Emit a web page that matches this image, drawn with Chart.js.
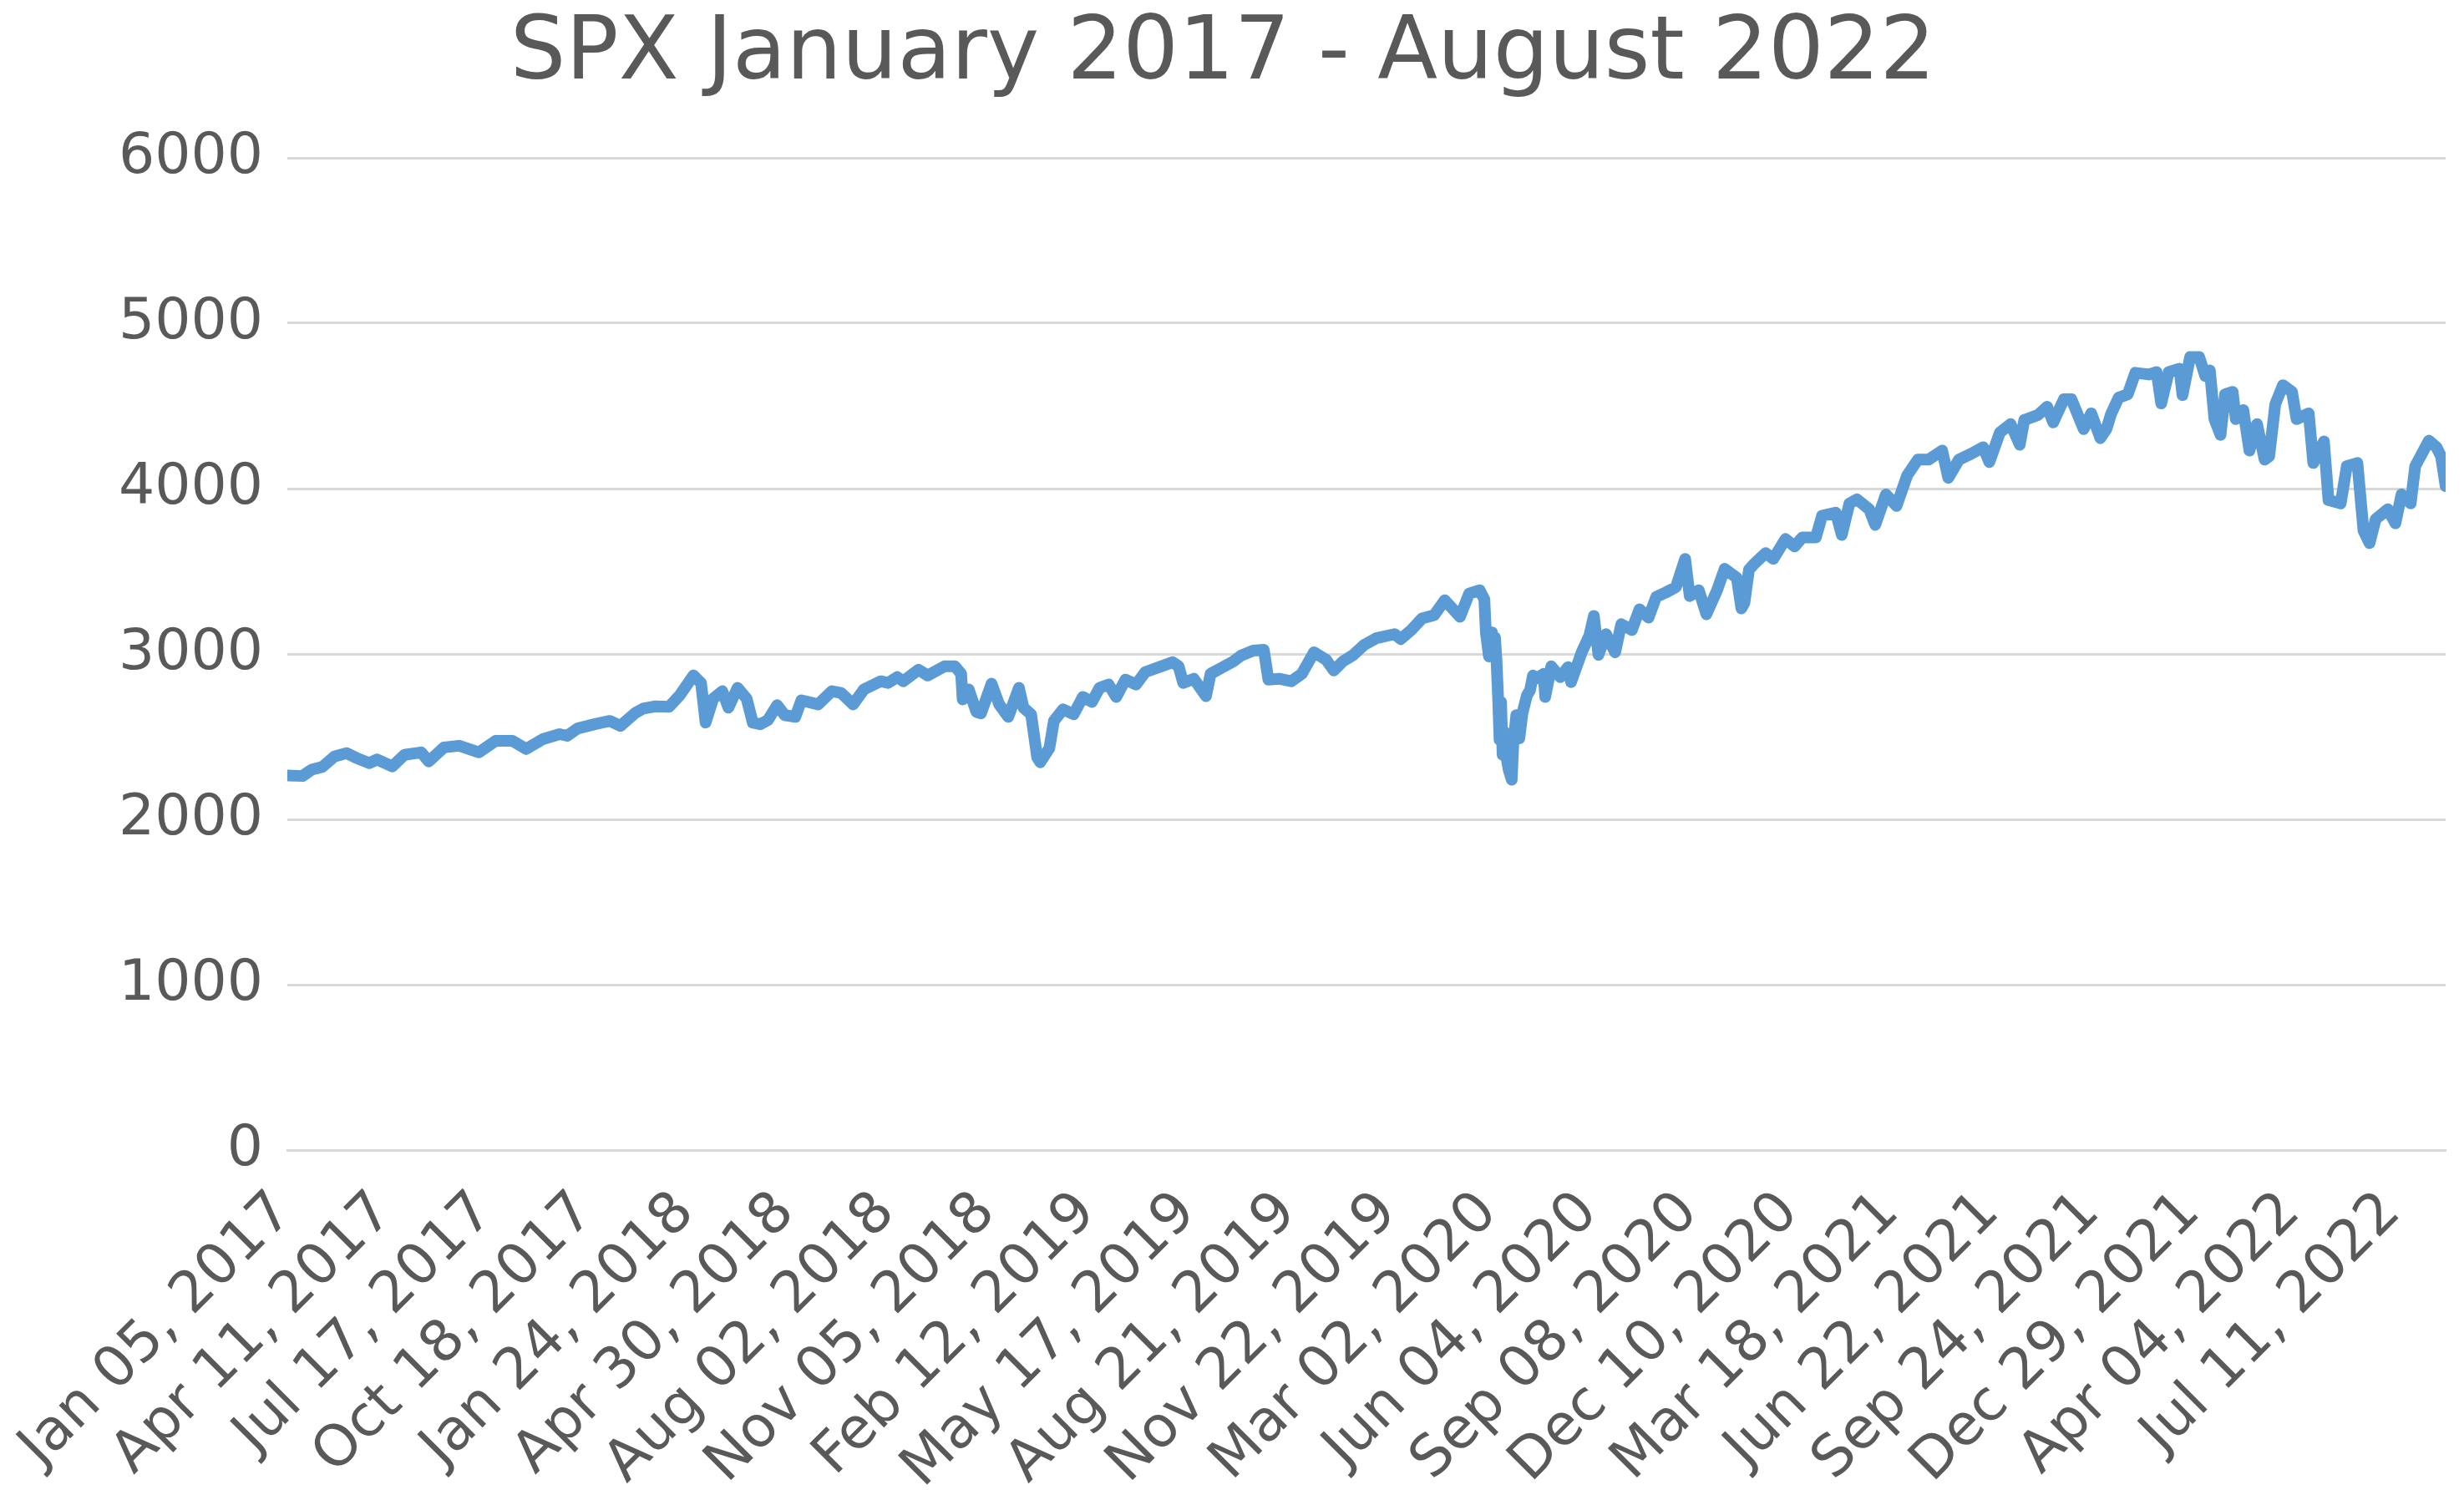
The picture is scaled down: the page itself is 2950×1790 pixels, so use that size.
<!DOCTYPE html>
<html>
<head>
<meta charset="utf-8">
<title>SPX January 2017 - August 2022</title>
<script src="https://cdn.jsdelivr.net/npm/chart.js@4.4.1/dist/chart.umd.min.js"></script>
<style>
  html, body { margin: 0; padding: 0; background: #ffffff; }
  #wrap { width: 2950px; height: 1790px; }
</style>
</head>
<body>
<div id="wrap"><canvas id="spx" width="2950" height="1790"></canvas></div>
<script>
let chartTitle = 'SPX January 2017 - August 2022'

// trading-day position of each sampled close (0 = Jan 05, 2017)
let dayIndex = [
  0, 10, 16, 23, 31, 39, 45, 54, 59, 69, 77, 88, 93, 103, 113, 126, 137, 148, 157, 168,
  179, 184, 191, 202, 212, 219, 229, 234, 242, 251, 258, 267, 272, 275, 280, 286, 290, 296,
  302, 306, 311, 316, 322, 327, 334, 338, 349, 358, 364, 372, 379, 390, 395, 401, 405, 415,
  421, 432, 439, 443, 444, 448, 453, 456, 463, 468, 474, 481, 484, 489, 493, 495, 501, 504,
  510, 517, 523, 529, 534, 540, 545, 551, 558, 564, 573, 582, 586, 589, 596, 604, 607, 614,
  622, 627, 635, 642, 645, 652, 660, 667, 675, 683, 688, 694, 701, 708, 716, 728, 732, 739,
  746, 754, 761, 771, 777, 784, 787, 788, 790, 792, 793, 794, 795, 796, 797, 798, 799, 800,
  801, 803, 805, 806, 808, 810, 812, 815, 817, 819, 821, 826, 827, 831, 835, 837, 842, 844,
  851, 856, 859, 862, 867, 873, 877, 884, 889, 895, 900, 906, 913, 919, 922, 928, 933, 940,
  945, 953, 956, 958, 961, 965, 972, 977, 985, 991, 996, 1005, 1009, 1018, 1022, 1027, 1032,
  1040, 1044, 1051, 1058, 1065, 1072, 1079, 1088, 1092, 1099, 1107, 1115, 1119, 1126, 1133,
  1139, 1142, 1151, 1157, 1161, 1168, 1173, 1181, 1186, 1192, 1196, 1199, 1204, 1210, 1215,
  1224, 1229, 1232, 1237, 1244, 1246, 1251, 1257, 1261, 1264, 1267, 1271, 1274, 1279, 1281,
  1286, 1290, 1295, 1300, 1303, 1307, 1312, 1318, 1321, 1329, 1332, 1339, 1342, 1350, 1354,
  1361, 1365, 1369, 1373, 1381, 1386, 1390, 1396, 1399, 1408, 1413, 1416, 1419,
]

let spxClose = [
  2265, 2262, 2300, 2317, 2380, 2400, 2373, 2340, 2362, 2320, 2390, 2405, 2350, 2435, 2445, 2405, 2475, 2475, 2425, 2485,
  2515, 2505, 2550, 2575, 2595, 2565, 2645, 2670, 2683, 2680, 2750, 2870, 2825, 2585, 2730, 2775, 2675, 2795,
  2730, 2585, 2575, 2600, 2690, 2630, 2620, 2720, 2695, 2775, 2765, 2695, 2785, 2835, 2825, 2860, 2835, 2905,
  2870, 2925, 2925, 2880, 2725, 2785, 2650, 2640, 2820, 2695, 2620, 2795, 2675, 2635, 2375, 2345, 2430, 2595,
  2665, 2635, 2740, 2710, 2795, 2815, 2740, 2845, 2815, 2890, 2920, 2950, 2925, 2825, 2850, 2745, 2880, 2915,
  2955, 2990, 3020, 3025, 2845, 2850, 2835, 2880, 3010, 2965, 2900, 2955, 2995, 3055, 3095, 3120, 3090, 3145,
  3215, 3235, 3325, 3225, 3365, 3385, 3330, 3130, 2985, 3130, 3000, 3100, 2960, 2745, 2480, 2710, 2390, 2530,
  2400, 2300, 2240, 2450, 2630, 2490, 2640, 2750, 2780, 2870, 2850, 2880, 2740, 2925, 2880, 2860, 2920, 2830,
  3010, 3110, 3230, 2995, 3120, 3010, 3180, 3145, 3270, 3220, 3345, 3370, 3405, 3575, 3350, 3385, 3240, 3385,
  3515, 3460, 3275, 3310, 3510, 3550, 3610, 3575, 3695, 3650, 3705, 3705, 3835, 3855, 3720, 3910, 3935,
  3875, 3780, 3965, 3895, 4080, 4175, 4175, 4230, 4065, 4175, 4210, 4250, 4160, 4340, 4390,
  4265, 4415, 4445, 4495, 4400, 4540, 4540, 4360, 4455, 4305, 4360, 4450, 4550, 4570, 4700,
  4690, 4705, 4515, 4705, 4725, 4565, 4795, 4795, 4680, 4715, 4420, 4325, 4570, 4585, 4420,
  4475, 4230, 4390, 4175, 4195, 4510, 4625, 4585, 4420, 4455, 4155, 4285, 3930, 3910, 4135,
  4155, 3745, 3670, 3815, 3875, 3790, 3965, 3910, 4135, 4290, 4250, 4195, 4015,
]

// category labels shown every 66 trading days
let labelEvery = 66
let tickLabels = [
  'Jan 05, 2017', 'Apr 11, 2017', 'Jul 17, 2017', 'Oct 18, 2017', 'Jan 24, 2018', 'Apr 30, 2018',
  'Aug 02, 2018', 'Nov 05, 2018', 'Feb 12, 2019', 'May 17, 2019', 'Aug 21, 2019', 'Nov 22, 2019',
  'Mar 02, 2020', 'Jun 04, 2020', 'Sep 08, 2020', 'Dec 10, 2020', 'Mar 18, 2021', 'Jun 22, 2021',
  'Sep 24, 2021', 'Dec 29, 2021', 'Apr 04, 2022', 'Jul 11, 2022',
]

let yTicks = [0, 1000, 2000, 3000, 4000, 5000, 6000]

let textColor = '#595959'
let gridColor = '#d9d9d9'
let lineColor = '#5b9bd5'
let fontFamily = "'DejaVu Sans', 'Liberation Sans', sans-serif"

let points = dayIndex.map(function(d, i) {
  return { x: d, y: spxClose[i] }
})

new Chart(document.getElementById('spx'), {
  type: 'line',
  data: {
    datasets: [
      {
        label: 'SPX',
        data: points,
        borderColor: lineColor,
        borderWidth: 14,
        borderJoinStyle: 'round',
        borderCapStyle: 'round',
        pointRadius: 0,
        tension: 0,
        fill: false,
      },
    ],
  },
  options: {
    responsive: false,
    animation: false,
    devicePixelRatio: 1,
    layout: { padding: { left: 0, right: 22, top: 0, bottom: 0 } },
    plugins: {
      legend: { display: false },
      tooltip: { enabled: false },
      title: {
        display: true,
        text: chartTitle,
        color: textColor,
        font: { family: fontFamily, size: 105, weight: 'normal' },
        padding: { top: 4, bottom: 59 },
      },
    },
    scales: {
      x: {
        type: 'linear',
        min: 0,
        max: dayIndex[dayIndex.length - 1],
        afterBuildTicks: function(scale) {
          scale.ticks = tickLabels.map(function(t, i) {
            return { value: i * labelEvery }
          })
        },
        afterFit: function(scale) {
          scale.height = 413
          scale.paddingLeft = 0
          scale.paddingRight = 0
        },
        grid: { display: false, drawTicks: false },
        border: { display: true, color: gridColor, width: 3 },
        ticks: {
          autoSkip: false,
          minRotation: 45,
          maxRotation: 45,
          padding: 40,
          labelOffset: -4,
          color: textColor,
          font: { family: fontFamily, size: 68, lineHeight: 1 },
          callback: function(value) {
            return tickLabels[Math.round(value / labelEvery)]
          },
        },
      },
      y: {
        min: 0,
        max: 6000,
        afterBuildTicks: function(scale) {
          scale.ticks = yTicks.map(function(v) {
            return { value: v }
          })
        },
        afterFit: function(scale) {
          scale.width = 344
        },
        grid: { color: gridColor, lineWidth: 3, drawTicks: false },
        border: { display: false },
        ticks: {
          padding: 29,
          color: textColor,
          font: { family: fontFamily, size: 68 },
          callback: function(value) {
            return String(value)
          },
        },
      },
    },
  },
})
</script>
</body>
</html>
